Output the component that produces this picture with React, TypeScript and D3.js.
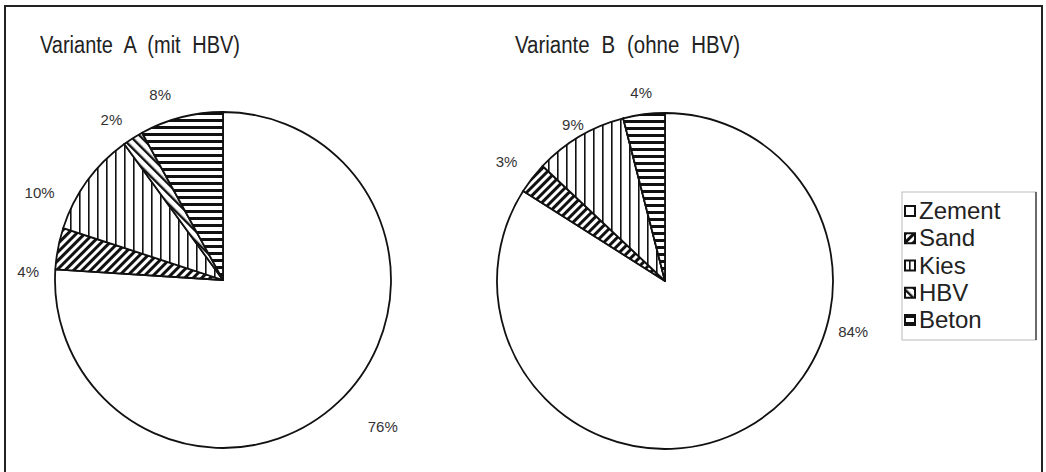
import React from "react";
import * as d3 from "d3";

const materials = ["Zement", "Sand", "Kies", "HBV", "Beton"];
const valuesA = [76, 4, 10, 2, 8];
const valuesB = [84, 3, 9, 0, 4];
const titles = ["Variante A (mit HBV)", "Variante B (ohne HBV)"];

const patternIds = ["none", "pSand", "pKies", "pHBV", "pBeton"];

const W = 1046;
const H = 472;
const R = 168;

const font = "'Liberation Sans', Arial, sans-serif";

// label tweaks per slice: [angle shift in degrees, extra distance]
const labelAdjA = [
  [-4.2, 22],
  [-8.5, 0],
  [-10.6, 8],
  [-2.5, 0],
  [-4.4, 0],
];
const labelAdjB = [
  [-46, 0],
  [-1, 3],
  [0, -14],
  [0, 0],
  [0, -5],
];

const Pie = ({ values, cx, cy, title, titleX, titleLen, adj }: any) => {
  const pie = d3
    .pie<number>()
    .sort(null)
    .value((d) => d);
  const arcs = pie(values);
  const arc = d3.arc<any>().innerRadius(0).outerRadius(R);

  return (
    <g>
      <text
        x={titleX}
        y={53}
        fontFamily={font}
        fontSize={23}
        wordSpacing={7}
        textLength={titleLen}
        lengthAdjust="spacingAndGlyphs"
        fill="#222"
      >
        {title}
      </text>
      <g transform={`translate(${cx},${cy})`}>
        {arcs.map((a, i) => (
          <path
            key={i}
            d={arc(a) || ""}
            fill={i === 0 ? "#fff" : `url(#${patternIds[i]})`}
            stroke="#111"
            strokeWidth={1.8}
            strokeLinejoin="round"
          />
        ))}
        {arcs.map((a, i) => {
          if (a.data === 0) return null;
          const mid = (a.startAngle + a.endAngle) / 2 + (adj[i][0] * Math.PI) / 180;
          const rr = R + 27 + adj[i][1];
          const x = rr * Math.sin(mid);
          const y = -rr * Math.cos(mid) + 5;
          return (
            <text
              key={"l" + i}
              x={x}
              y={y}
              textAnchor="middle"
              fontFamily={font}
              fontSize={15}
              fill="#333"
            >
              {a.data}%
            </text>
          );
        })}
      </g>
    </g>
  );
};

export default function App() {
  const legendY = d3
    .scalePoint<string>()
    .domain(materials)
    .range([211, 320]);

  return (
    <svg
      width={W}
      height={H}
      style={{ position: "absolute", left: 0, top: 0, background: "#fff" }}
    >
      <defs>
        <pattern id="pSand" width="6" height="6" patternUnits="userSpaceOnUse" patternTransform="rotate(45)">
          <rect width="6" height="6" fill="#fff" />
          <rect x="0" width="3" height="6" fill="#111" />
        </pattern>
        <pattern id="pKies" width="9" height="9" patternUnits="userSpaceOnUse">
          <rect width="9" height="9" fill="#fff" />
          <rect x="0" width="1.6" height="9" fill="#111" />
        </pattern>
        <pattern id="pHBV" width="7" height="7" patternUnits="userSpaceOnUse" patternTransform="rotate(-45)">
          <rect width="7" height="7" fill="#fff" />
          <rect x="0" width="2.4" height="7" fill="#111" />
        </pattern>
        <pattern id="pBeton" width="7" height="7" patternUnits="userSpaceOnUse">
          <rect width="7" height="7" fill="#fff" />
          <rect y="0" width="7" height="3" fill="#111" />
        </pattern>
      </defs>

      {/* frame */}
      <path d={`M5,${H} V6 H1042 V${H}`} fill="none" stroke="#222" strokeWidth={2} />

      <Pie values={valuesA} cx={223} cy={280} title={titles[0]} titleX={40} titleLen={200} adj={labelAdjA} />
      <Pie values={valuesB} cx={665} cy={281} title={titles[1]} titleX={515} titleLen={225} adj={labelAdjB} />

      {/* legend */}
      <rect x={902} y={192} width={134} height={148} fill="#fff" stroke="#bbb" strokeWidth={1} />
      <line x1={1036} y1={192} x2={1036} y2={340} stroke="#444" strokeWidth={1.5} />
      {materials.map((m, i) => {
        const y = legendY(m) || 0;
        return (
          <g key={m}>
            <rect
              x={905}
              y={y - 5}
              width={10}
              height={10}
              fill={i === 0 ? "#fff" : `url(#${patternIds[i]})`}
              stroke="#111"
              strokeWidth={2}
            />
            <text x={919} y={y + 8} fontFamily={font} fontSize={24} fill="#222">
              {m}
            </text>
          </g>
        );
      })}
    </svg>
  );
}
